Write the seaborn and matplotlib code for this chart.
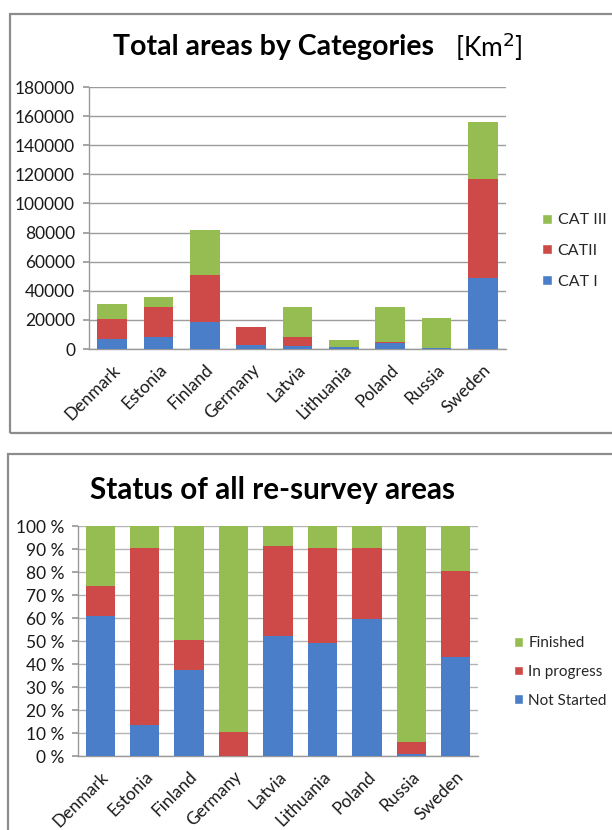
import matplotlib
matplotlib.use("Agg")
import matplotlib.pyplot as plt
from matplotlib.patches import Patch, Rectangle
from matplotlib.ticker import FuncFormatter
import numpy as np
import pandas as pd
import seaborn as sns

# ---- data -------------------------------------------------------------
countries = ["Denmark", "Estonia", "Finland", "Germany", "Latvia",
             "Lithuania", "Poland", "Russia", "Sweden"]

# total areas by category [km2]
cat1 = [7000, 8000, 18500, 2700, 2300, 1100, 4100, 500, 48600]
cat2 = [13500, 20800, 32500, 12300, 5700, 500, 500, 200, 67900]
cat3 = [10500, 6600, 31000, 0, 20800, 4600, 24200, 20500, 39300]
cat_labels = ["CAT I", "CATII", "CAT III"]

# status of re-survey areas [%]
not_started = [61, 13.5, 37.5, 0, 52, 49, 59.5, 0.8, 43]
in_progress = [13, 77, 13, 10.5, 39.5, 41.5, 31, 5.3, 37.5]
finished = [26, 9.5, 49.5, 89.5, 8.5, 9.5, 9.5, 93.9, 19.5]
status_labels = ["Not Started", "In progress", "Finished"]

area_ticks = [0, 20000, 40000, 60000, 80000, 100000, 120000, 140000, 160000, 180000]
pct_ticks = [0, 10, 20, 30, 40, 50, 60, 70, 80, 90, 100]

# ---- style ------------------------------------------------------------
BLUE = "#4a7ec8"
RED = "#cd4a48"
GREEN = "#95bd52"
colors = [BLUE, RED, GREEN]

sns.set_theme(style="white")
plt.rcParams["font.family"] = ["Lato", "DejaVu Sans"]

W, H = 612, 830
fig = plt.figure(figsize=(W / 100, H / 100), dpi=100)
fig.patch.set_facecolor("white")


def px_axes(left, top, right, bottom):
    return fig.add_axes([left / W, 1 - bottom / H, (right - left) / W, (bottom - top) / H])


# outer frames around each chart
for (x0, y0, x1, y1) in [(10, 14, 640, 433), (8, 454, 640, 860)]:
    fig.patches.append(Rectangle((x0 / W, 1 - y1 / H), (x1 - x0) / W, (y1 - y0) / H,
                                 transform=fig.transFigure, fill=False,
                                 edgecolor="#8c8c8c", linewidth=1.6, zorder=0))


def stacked(ax, series, width):
    cum = np.cumsum(np.array(series, dtype=float), axis=0)
    # draw the tallest stack first, then overlay the lower segments
    for i in range(len(series) - 1, -1, -1):
        df = pd.DataFrame({"country": countries, "value": cum[i]})
        sns.barplot(data=df, x="country", y="value", order=countries,
                    color=colors[i], saturation=1, width=width, ax=ax,
                    linewidth=0, zorder=3)


def style_axes(ax, grid_color, fs):
    ax.set_xlabel("")
    ax.set_ylabel("")
    ax.grid(axis="y", color=grid_color, linewidth=1.0, zorder=0)
    ax.set_axisbelow(True)
    for s in ["top", "right"]:
        ax.spines[s].set_visible(False)
    for s in ["left", "bottom"]:
        ax.spines[s].set_color("#9a9a9a")
        ax.spines[s].set_linewidth(1.0)
    ax.tick_params(axis="y", length=4, color="#9a9a9a", labelsize=fs, pad=6,
                   labelcolor="#1a1a1a", left=True)
    ax.tick_params(axis="x", length=0, labelsize=fs, pad=9, labelcolor="#1a1a1a")
    for lbl in ax.get_xticklabels():
        lbl.set_rotation(45)
        lbl.set_ha("right")
        lbl.set_rotation_mode("anchor")


# ---- chart 1: total areas by category ---------------------------------
ax1 = px_axes(89, 87, 506, 349)
stacked(ax1, [cat1, cat2, cat3], 0.64)
ax1.set_ylim(0, 180000)
ax1.set_yticks(area_ticks)
ax1.yaxis.set_major_formatter(FuncFormatter(lambda v, p: f"{int(v)}"))
ax1.set_xlim(-0.5, len(countries) - 0.5)
style_axes(ax1, "#9c9c9c", 12.5)

fig.text(113 / W, 1 - 47 / H, "Total areas by Categories", fontsize=20.5,
         fontweight="bold", ha="left", va="center", color="black")
fig.text(455 / W, 1 - 47 / H, r"[Km$^{2}$]", fontsize=19, ha="left",
         va="center", color="black")

h1 = [Patch(facecolor=colors[i], label=cat_labels[i]) for i in (2, 1, 0)]
fig.legend(handles=h1, loc="center left", bbox_to_anchor=(528 / W, 1 - 251 / H),
           frameon=False, fontsize=11.5, handlelength=0.6, handleheight=0.6,
           handletextpad=0.35, labelspacing=1.05)

# ---- chart 2: status of re-survey areas -------------------------------
ax2 = px_axes(78, 526, 478, 756)
stacked(ax2, [not_started, in_progress, finished], 0.66)
ax2.set_ylim(0, 100)
ax2.set_yticks(pct_ticks)
ax2.yaxis.set_major_formatter(FuncFormatter(lambda v, p: f"{int(v)} %"))
ax2.set_xlim(-0.5, len(countries) - 0.5)
style_axes(ax2, "#b4b4b4", 12.5)

fig.text(90 / W, 1 - 490 / H, "Status of all re-survey areas", fontsize=21.3,
         fontweight="bold", ha="left", va="center", color="black")

h2 = [Patch(facecolor=colors[i], label=status_labels[i]) for i in (2, 1, 0)]
fig.legend(handles=h2, loc="center left", bbox_to_anchor=(500 / W, 1 - 672 / H),
           frameon=False, fontsize=11, handlelength=0.6, handleheight=0.6,
           handletextpad=0.35, labelspacing=0.95)

fig.savefig("out.png", dpi=100, facecolor="white")
